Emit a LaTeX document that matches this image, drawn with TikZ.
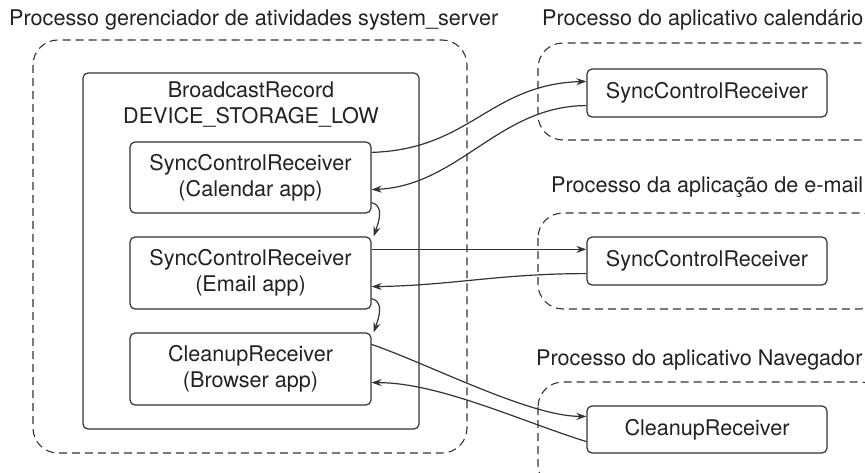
\documentclass[tikz,border=0pt]{standalone}
\usepackage{fontspec}
\setmainfont{TeX Gyre Heros}
\usetikzlibrary{arrows.meta}
\definecolor{ln}{HTML}{333333}
\definecolor{tx}{HTML}{222222}
\tikzset{
  every node/.style={text=tx, font=\fontsize{21.6}{26}\selectfont},
  rcv/.style={draw=ln, line width=1.2pt, rounded corners=5pt, minimum width=241pt, align=center, inner sep=0pt},
  proc/.style={draw=ln, line width=1.1pt, dash pattern=on 8pt off 5pt, rounded corners=25pt},
  msg/.style={draw=ln, line width=1.2pt, -{Stealth[length=10pt,width=7pt]}},
  lbl/.style={anchor=west, inner sep=0pt}
}
\begin{document}
\begin{tikzpicture}[x=1pt,y=-1pt]
\useasboundingbox (0,0) rectangle (865,473);
\clip (0,0) rectangle (865,473);
% containers
\draw[proc] (33,40) rectangle (467,453);
\draw[draw=ln, line width=1.2pt, rounded corners=5pt] (83,73) rectangle (419,429);
\draw[proc] (538,43) rectangle (885,140);
\draw[proc] (538,213) rectangle (885,309);
\draw[proc] (538,382) rectangle (885,490);
% labels
\node[lbl] (t0) at (9,20) {Processo gerenciador de atividades system\_server};
\node[lbl] (t1) at (542,20) {Processo do aplicativo calendário};
\node[lbl] (t2) at (551,187) {Processo da aplicação de e-mail};
\node[lbl] (t3) at (536,360) {Processo do aplicativo Navegador};
\node[align=center, inner sep=0pt] (br) at (251,104.5) {BroadcastRecord\\DEVICE\_STORAGE\_LOW};
% receivers
\node[rcv, minimum height=71pt] (cal) at (250.5,177.5) {SyncControlReceiver\\(Calendar app)};
\node[rcv, minimum height=72pt] (em) at (250.5,273) {SyncControlReceiver\\(Email app)};
\node[rcv, minimum height=72pt] (bw) at (250.5,369) {CleanupReceiver\\(Browser app)};
\node[rcv, minimum width=240pt, minimum height=48pt] (a1) at (707,93) {SyncControlReceiver};
\node[rcv, minimum width=240pt, minimum height=48pt] (a2) at (707,261) {SyncControlReceiver};
\node[rcv, minimum width=240pt, minimum height=47pt] (a3) at (707,429.5) {CleanupReceiver};
% messages
\draw[msg] ([yshift=-11pt]cal.north east) .. controls +(99,-3) and +(-97,3) .. ([yshift=-13pt]a1.north west);
\draw[msg] ([yshift=12pt]a1.south west) .. controls +(-87,0) and +(87,-4) .. ([yshift=24pt]cal.south east);
\draw[msg] ([yshift=-13pt]em.north east) -- ([yshift=-13pt]a2.north west);
\draw[msg] ([yshift=12pt]a2.south west) .. controls +(-87,0) and +(79,-1) .. ([yshift=23pt]em.south east);
\draw[msg] ([yshift=-12pt]bw.north east) .. controls +(58,20) and +(-57,0) .. ([yshift=-11pt]a3.north west);
\draw[msg] ([yshift=12pt]a3.south west) .. controls +(-67,-21) and +(67,0) .. ([yshift=23pt]bw.south east);
% sequence
\draw[msg] ([yshift=11pt]cal.south east) .. controls +(13,3) and +(5,-14) .. ([xshift=2pt]em.north east);
\draw[msg] ([yshift=11pt]em.south east) .. controls +(13,3) and +(5,-14) .. ([xshift=2pt]bw.north east);
\end{tikzpicture}
\end{document}
